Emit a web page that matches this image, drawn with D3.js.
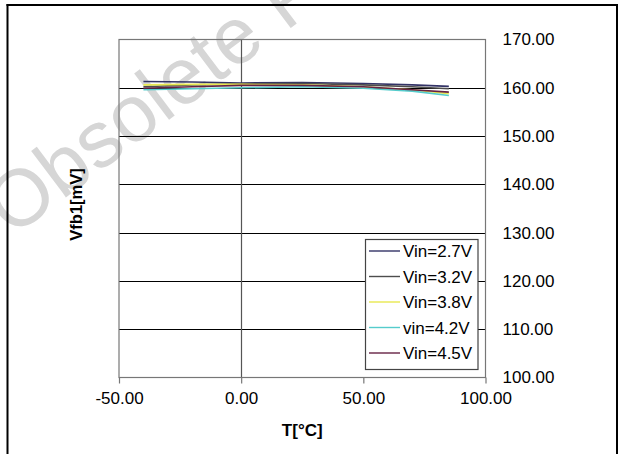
<!DOCTYPE html>
<html><head><meta charset="utf-8">
<script src="https://cdn.jsdelivr.net/npm/d3@7"></script>
<style>body{margin:0;background:#fff}svg{display:block;font-family:Arial,"Liberation Sans",sans-serif}</style>
</head><body><svg id="c" width="623" height="454"></svg>
<script>
const temps = [-40, -20, 0, 25, 50, 70, 85];
const seriesNames = ["Vin=2.7V", "Vin=3.2V", "Vin=3.8V", "vin=4.2V", "Vin=4.5V"];
const v27 = [161.3, 161.2, 161.0, 161.1, 160.9, 160.6, 160.3];
const v32 = [160.2, 160.6, 160.8, 160.9, 160.6, 160.2, 159.8];
const v38 = [160.6, 160.7, 160.7, 160.6, 160.2, 159.6, 158.8];
const v42 = [159.6, 159.8, 160.0, 160.2, 159.9, 159.3, 158.4];
const v45 = [159.9, 160.2, 160.5, 160.5, 160.2, 159.6, 159.1];
const seriesValues = [v27, v32, v38, v42, v45];
const seriesColors = ["#333366", "#4d4d4d", "#e8e850", "#55cccc", "#662244"];
const xTicks = [-50, 0, 50, 100];
const yTicks = [100, 110, 120, 130, 140, 150, 160, 170];
const xTitle = "T[°C]", yTitle = "Vfb1[mV]", watermark = "Obsolete Product";

const svg = d3.select("#c");
const L = 119, R = 485.5, T = 39.5, B = 377.5;
const x = d3.scaleLinear().domain([-50, 100]).range([L, R]);
const y = d3.scaleLinear().domain([100, 170]).range([B, T]);
const fmt = d => d3.format(".2f")(d).replace("\u2212", "-");

// watermark
svg.append("text").attr("transform", "translate(12,238) rotate(-37)")
  .attr("font-size", 80).attr("fill", "#d6d6d6").text(watermark);

// frame
svg.append("line").attr("x1", 7.5).attr("x2", 7.5).attr("y1", 4).attr("y2", 454).attr("stroke", "#000").attr("stroke-width", 2);
svg.append("line").attr("x1", 6.5).attr("x2", 618).attr("y1", 5).attr("y2", 5).attr("stroke", "#000").attr("stroke-width", 2);
svg.append("line").attr("x1", 617).attr("x2", 617).attr("y1", 4).attr("y2", 454).attr("stroke", "#000").attr("stroke-width", 2);

// horizontal grid
svg.append("g").selectAll("line").data(yTicks.filter(d => d > 100 && d < 170)).join("line")
  .attr("x1", L).attr("x2", R).attr("y1", d => Math.round(y(d)) + 0.5).attr("y2", d => Math.round(y(d)) + 0.5)
  .attr("stroke", "#000").attr("stroke-width", 1);
// vertical grid at 0
svg.append("line").attr("x1", Math.round(x(0)) + 0.5).attr("x2", Math.round(x(0)) + 0.5).attr("y1", T).attr("y2", B)
  .attr("stroke", "#555").attr("stroke-width", 1.2);
// plot border
svg.append("rect").attr("x", L).attr("y", T).attr("width", R - L).attr("height", B - T)
  .attr("fill", "none").attr("stroke", "#777").attr("stroke-width", 1.2);

// x axis
const xa = svg.append("g").attr("transform", `translate(0,${B})`)
  .call(d3.axisBottom(x).tickValues(xTicks).tickFormat(fmt).tickSize(6).tickPadding(8));
xa.select(".domain").remove();
xa.selectAll("line").attr("stroke", "#777").attr("stroke-width", 1.2);
xa.selectAll("text").attr("font-size", 17).attr("font-family", "Arial,'Liberation Sans',sans-serif").attr("fill", "#000");

// y axis right
const ya = svg.append("g").attr("transform", `translate(${R},0)`)
  .call(d3.axisRight(y).tickValues(yTicks).tickFormat(fmt).tickSize(0).tickPadding(17));
ya.select(".domain").remove();
ya.selectAll("text").attr("font-size", 17).attr("font-family", "Arial,'Liberation Sans',sans-serif").attr("fill", "#000");

// titles
svg.append("text").attr("x", (L + R) / 2).attr("y", 436).attr("text-anchor", "middle")
  .attr("font-size", 17).attr("font-weight", "bold").text(xTitle);
svg.append("text").attr("transform", `translate(82,${(T + B) / 2 - 4}) rotate(-90)`).attr("text-anchor", "middle")
  .attr("font-size", 16.5).attr("font-weight", "bold").text(yTitle);

// lines
const line = d3.line().x((d, i) => x(temps[i])).y(d => y(d));
seriesValues.forEach((vals, k) => {
  svg.append("path").datum(vals).attr("d", line).attr("fill", "none")
    .attr("stroke", seriesColors[k]).attr("stroke-width", 1.6);
});

// legend
const lg = svg.append("g");
lg.append("rect").attr("x", 365.5).attr("y", 239.5).attr("width", 112.5).attr("height", 130)
  .attr("fill", "#fff").attr("stroke", "#444").attr("stroke-width", 1.2);
seriesNames.forEach((n, k) => {
  const cy = 251 + k * 25.5;
  lg.append("line").attr("x1", 369).attr("x2", 400).attr("y1", cy).attr("y2", cy)
    .attr("stroke", seriesColors[k]).attr("stroke-width", 1.4);
  lg.append("text").attr("x", 403).attr("y", cy).attr("dy", "0.36em").attr("font-size", 17).text(n);
});
</script></body></html>
